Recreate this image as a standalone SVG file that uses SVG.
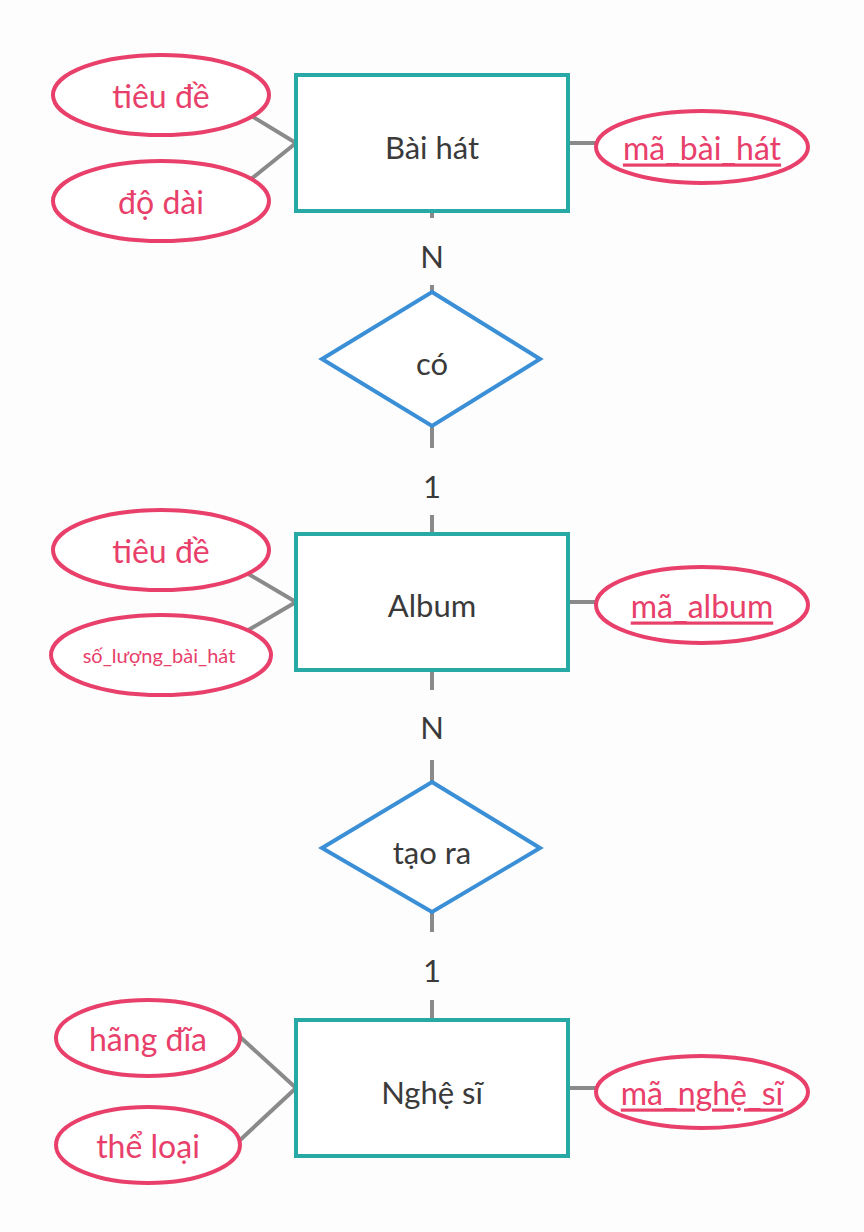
<svg xmlns="http://www.w3.org/2000/svg" width="864" height="1232" viewBox="0 0 864 1232">
<style>
text{font-family:Lato,"Noto Sans",sans-serif;text-anchor:middle;dominant-baseline:central}
.ent rect{fill:#fff;stroke:#27aaa6;stroke-width:4}
.ent text{font-size:31px;fill:#3a3a3a}
.rel polygon{fill:#fff;stroke:#3a8fd6;stroke-width:4}
.rel text{font-size:31px;fill:#3a3a3a}
.att ellipse{fill:#fff;stroke:#e8406a;stroke-width:4}
.att text{font-size:32px;fill:#e8406a}
.key text{text-decoration:underline}
.c line{stroke:#8a8a8a;stroke-width:4}
.card{font-size:31px;fill:#3a3a3a}
</style>
<rect width="864" height="1232" fill="#fdfdfd"/>
<g class="c">
<line x1="245" y1="112" x2="296" y2="143"/><line x1="245" y1="184" x2="296" y2="143"/><line x1="568" y1="143" x2="596" y2="143"/>
<line x1="245" y1="572" x2="296" y2="602"/><line x1="245" y1="632" x2="296" y2="602"/><line x1="568" y1="602" x2="596" y2="602"/>
<line x1="238" y1="1035" x2="296" y2="1088"/><line x1="238" y1="1142" x2="296" y2="1088"/><line x1="568" y1="1088" x2="596" y2="1088"/>
<line x1="432" y1="211" x2="432" y2="218"/><line x1="432" y1="285" x2="432" y2="292"/>
<line x1="432" y1="426" x2="432" y2="448"/><line x1="432" y1="515" x2="432" y2="534"/>
<line x1="432" y1="670" x2="432" y2="690"/><line x1="432" y1="760" x2="432" y2="782"/>
<line x1="432" y1="912" x2="432" y2="932"/><line x1="432" y1="1000" x2="432" y2="1020"/>
</g>
<text class="card" x="432" y="256">N</text><text class="card" x="432" y="486">1</text>
<text class="card" x="432" y="727">N</text><text class="card" x="432" y="970">1</text>
<g id="baihat" class="ent"><rect x="296" y="75" width="272" height="136"/><text x="432" y="147">Bài hát</text></g>
<g id="album" class="ent"><rect x="296" y="534" width="272" height="136"/><text x="432" y="605">Album</text></g>
<g id="nghesi" class="ent"><rect x="296" y="1020" width="272" height="136"/><text x="432" y="1092">Nghệ sĩ</text></g>
<g id="co" class="rel"><polygon points="432,292 540,359 432,426 322,359"/><text x="432" y="363">có</text></g>
<g id="taora" class="rel"><polygon points="432,782 540,848 432,912 322,848"/><text x="432" y="852">tạo ra</text></g>
<g id="a1" class="att"><ellipse cx="161" cy="95" rx="108" ry="40"/><text x="161" y="95">tiêu đề</text></g>
<g id="a2" class="att"><ellipse cx="161" cy="201" rx="108" ry="40"/><text x="161" y="201">độ dài</text></g>
<g id="a3" class="att key"><ellipse cx="702" cy="147" rx="106" ry="36"/><text x="702" y="147">mã_bài_hát</text></g>
<g id="a4" class="att"><ellipse cx="161" cy="550" rx="108" ry="40"/><text x="161" y="550">tiêu đề</text></g>
<g id="a5" class="att"><ellipse cx="161" cy="655" rx="110" ry="40"/><text x="159" y="655" style="font-size:20px">số_lượng_bài_hát</text></g>
<g id="a6" class="att key"><ellipse cx="702" cy="605" rx="106" ry="38"/><text x="702" y="605">mã_album</text></g>
<g id="a7" class="att"><ellipse cx="148" cy="1038" rx="92" ry="38"/><text x="148" y="1038">hãng đĩa</text></g>
<g id="a8" class="att"><ellipse cx="148" cy="1145" rx="92" ry="38"/><text x="148" y="1145">thể loại</text></g>
<g id="a9" class="att key"><ellipse cx="702" cy="1092" rx="106" ry="36"/><text x="702" y="1092">mã_nghệ_sĩ</text></g>
</svg>
